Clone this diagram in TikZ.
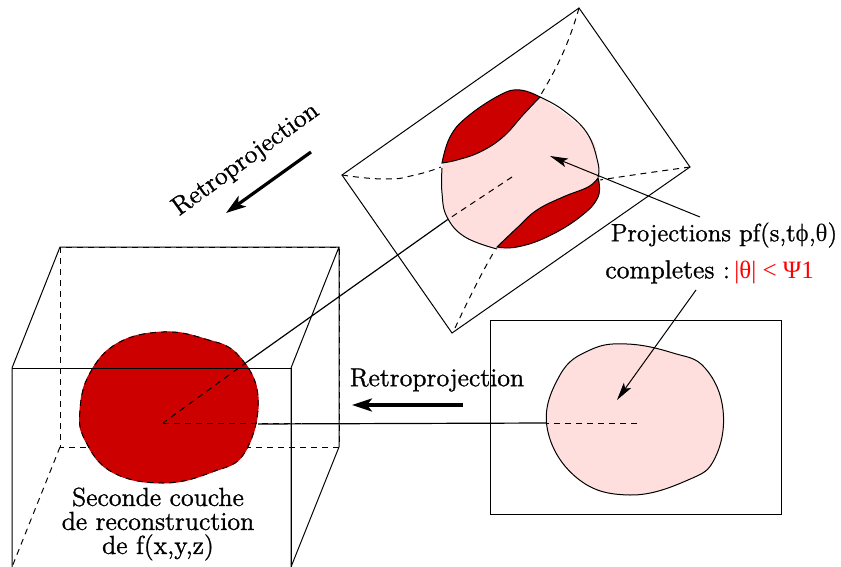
\documentclass[tikz,border=0pt]{standalone}
\usepackage{fontspec}
\usepackage{xcolor}
\usetikzlibrary{arrows.meta}
\setmainfont{Latin Modern Roman}[RawFeature={embolden=1.2}]
\newfontfamily\greekfont{Liberation Serif}
\definecolor{coupered}{RGB}{205,0,0}
\definecolor{projpink}{RGB}{255,222,222}
\tikzset{
  thinline/.style={line width=0.5pt},
  hidden/.style={line width=0.5pt, dash pattern=on 3pt off 2.5pt},
  thickarrow/.style={line width=1.6pt, -{Stealth[length=10pt,width=6.5pt,inset=2.5pt]}},
  thinarrow/.style={line width=0.5pt, -{Stealth[length=9pt,width=4.5pt,inset=2pt]}},
  legend/.style={inner sep=0pt, font=\fontsize{13}{12}\selectfont}
}
\begin{document}
\begin{tikzpicture}[x=0.5pt, y=-0.5pt]
  \useasboundingbox (0,0) rectangle (841,567);

  \coordinate (boxAa) at (12,368);
  \coordinate (boxAb) at (291,368);
  \coordinate (boxAc) at (291,567);
  \coordinate (boxAd) at (12,567);
  \coordinate (boxBa) at (60,247);
  \coordinate (boxBb) at (339,247);
  \coordinate (boxBc) at (339,447);
  \coordinate (boxBd) at (60,447);
  \coordinate (center) at (163,423);

  \coordinate (tiltN) at (579,8);
  \coordinate (tiltE) at (690,167);
  \coordinate (tiltS) at (452,333);
  \coordinate (tiltW) at (342,175);
  \coordinate (tiltc) at (512,177);
  \coordinate (tiltm) at (447,220);
  \coordinate (tiltl) at (247,362);

  \coordinate (flata) at (490,320);
  \coordinate (flatb) at (781,514);
  \coordinate (flatc) at (637,423);
  \coordinate (flatm) at (547,423);

  \draw[hidden] (boxBa) -- (boxBd) -- (boxBc) -- (boxBb) -- (boxBa);
  \draw[hidden] (boxBd) -- (boxAd);
  \draw[thinline] (boxAd) -- (boxAa) -- (boxBa) -- (boxBb) -- (boxBc) -- (boxAc) -- (boxAb) -- (boxBb);

  \draw[fill=coupered, draw=coupered, line width=0.5pt]
    plot[smooth cycle, tension=0.7] coordinates {(163,332) (205,339) (238,355) (258,397) (245,452) (212,472) (163,483) (112,472) (85,440) (80,410) (90,373) (118,343)};
  \draw[hidden]
    plot[smooth cycle, tension=0.7] coordinates {(163,332) (205,339) (238,355) (258,397) (245,452) (212,472) (163,483) (112,472) (85,440) (80,410) (90,373) (118,343)};
  \draw[thinline] (boxAa) -- (boxAb);
  \draw[thinline] (boxAb) -- (boxAc);

  \draw[thinline] (tiltN) -- (tiltE) -- (tiltS) -- (tiltW) -- cycle;
  \draw[hidden] plot[smooth, tension=0.9] coordinates {(tiltW) (385,179) (415,175) (441,167)};
  \draw[hidden] plot[smooth, tension=0.9] coordinates {(tiltE) (640,174) (600,180)};
  \draw[hidden] plot[smooth, tension=0.9] coordinates {(tiltN) (563,53) (540,96)};
  \draw[hidden] plot[smooth, tension=0.9] coordinates {(455,328) (477,283) (495,250)};

  \fill[projpink] plot[smooth cycle, tension=0.7] coordinates {(442,168) (450,137) (467,117) (500,95) (520,90) (540,97) (587,133) (598,163) (598,197) (580,217) (547,237) (517,247) (497,249) (465,237) (447,217) (442,193)};
  \draw[thinline] plot[smooth, tension=0.7] coordinates {(540,97) (563,110) (587,133) (598,163) (598,177)};
  \draw[thinline] plot[smooth, tension=0.7] coordinates {(497,249) (465,237) (447,217) (442,193) (442,168)};
  \draw[thinline, fill=coupered]
    plot[smooth, tension=0.7] coordinates {(442,163) (450,137) (467,117) (500,95) (520,90) (540,97)}
    -- plot[smooth, tension=0.7] coordinates {(540,97) (523,115) (503,137) (480,152) (457,160) (442,163)} -- cycle;
  \draw[thinline, fill=coupered]
    plot[smooth, tension=0.7] coordinates {(598,178) (598,197) (580,217) (547,237) (517,247) (497,247)}
    -- plot[smooth, tension=0.7] coordinates {(497,247) (518,227) (537,210) (563,197) (588,187) (598,178)} -- cycle;
  \draw[hidden] (tiltc) -- (tiltm);
  \draw[thinline, line width=0.6pt] (tiltm) -- (tiltl);
  \draw[hidden] (tiltl) -- (center);

  \draw[thinline] (flata) rectangle (flatb);
  \draw[thinline, fill=projpink]
    plot[smooth cycle, tension=0.7] coordinates {(627,344) (673,353) (705,368) (723,410) (715,458) (688,480) (630,495) (577,478) (547,427) (560,375) (590,350)};
  \draw[hidden] (flatc) -- (flatm);
  \draw[thinline, line width=0.6pt] (flatm) -- (258,424);
  \draw[hidden] (center) -- (340,423);

  \coordinate (backa) at (311,152);
  \coordinate (backb) at (226,213);
  \coordinate (backc) at (463,405);
  \coordinate (backd) at (352,405);
  \draw[thickarrow] (backa) -- (backb);
  \draw[thickarrow] (backc) -- (backd);

  \node[legend, rotate=36] (retroa) at (246,160) {Retroprojection};
  \node[legend] (retrob) at (437,380) {Retroprojection};
  \node[legend, font=\fontsize{12.5}{12}\selectfont] (projtext) at (724,235) {Projections pf(s,t{\greekfont ϕ},{\greekfont θ})};
  \node[legend, anchor=west] (comptext) at (605,272) {completes :\,\textcolor{red}{\fontsize{12.5}{12}\selectfont\greekfont|θ| < Ψ1}};
  \node[legend, align=center] (couche) at (158,524) {Seconde couche\\de reconstruction\\de f(x,y,z)\hspace{13pt}};

  \coordinate (pointa) at (700,217);
  \coordinate (pointb) at (550,156);
  \coordinate (pointc) at (696,290);
  \coordinate (pointd) at (617,400);
  \draw[thinarrow] (pointa) -- (pointb);
  \draw[thinarrow] (pointc) -- (pointd);
\end{tikzpicture}
\end{document}
